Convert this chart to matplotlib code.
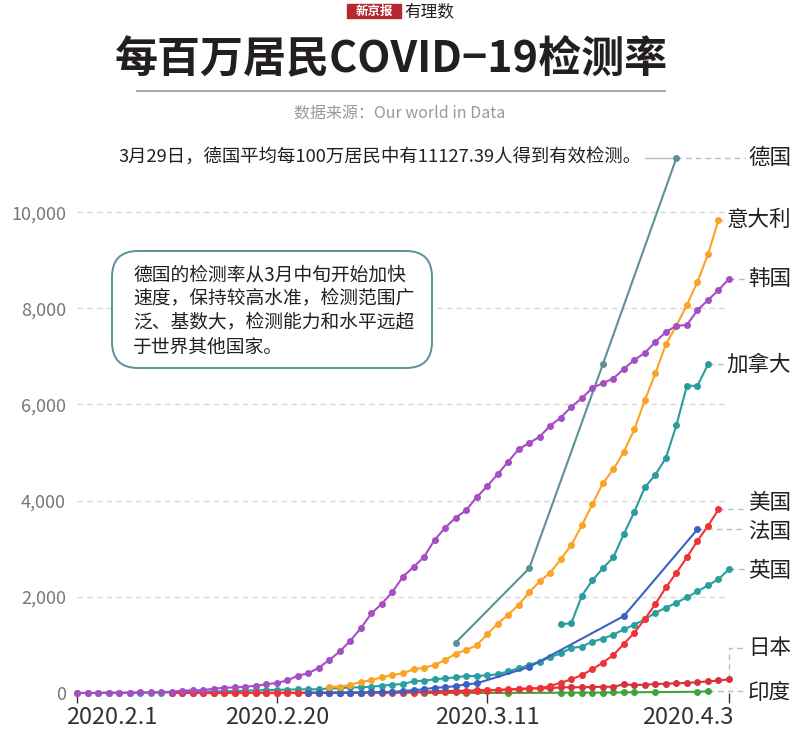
import matplotlib
matplotlib.use('Agg')
import matplotlib.pyplot as plt
import matplotlib.dates as mdates
import matplotlib.transforms as mtransforms
from matplotlib.patches import FancyBboxPatch, Rectangle
from matplotlib.lines import Line2D
from matplotlib.ticker import FuncFormatter
import pandas as pd

plt.rcParams['font.family'] = ['Noto Sans CJK SC', 'DejaVu Sans']

# 每日序列: 起始日期 + 每百万居民检测数
korea_start = '2020-02-01'
korea = [0, 2, 5, 10, 10, 10, 15, 15, 20, 25, 50, 55, 60, 90, 110, 115, 130, 150,
         180, 210, 260, 360, 410, 525, 690, 865, 1090, 1350, 1655, 1860, 2105,
         2420, 2620, 2830, 3180, 3435, 3645, 3800, 4070, 4300, 4550, 4810, 5070,
         5200, 5330, 5560, 5725, 5950, 6130, 6340, 6445, 6540, 6740, 6925, 7075,
         7300, 7510, 7635, 7655, 7960, 8170, 8380, 8610]

italy_start = '2020-02-25'
italy = [131, 131, 173, 229, 270, 326, 374, 409, 492, 526, 582, 686, 817, 894,
         991, 1220, 1441, 1628, 1836, 2093, 2322, 2501, 2780, 3077, 3486, 3923,
         4360, 4651, 5017, 5482, 6091, 6646, 7256, 7636, 8073, 8551, 9120, 9834]

germany_dates = ['2020-03-08', '2020-03-15', '2020-03-22', '2020-03-29']
germany = [1046, 2592, 6834, 11127.39]

canada_start = '2020-03-18'
canada = [1430, 1449, 2020, 2340, 2592, 2821, 3306, 3770, 4276, 4540, 4890,
          5572, 6389, 6389, 6834]

uk_start = '2020-02-01'
uk = [0, 0, 0, 0, 0, 2, 3, 5, 8, 10, 15, 20, 25, 30, 35, 40, 50, 55, 60, 65, 70, 75,
      77, 77, 97, 97, 118, 118, 131, 152, 173, 187, 243, 256, 284, 305, 326, 353,
      353, 367, 388, 451, 513, 582, 651, 742, 825, 936, 963, 1067, 1129, 1212,
      1323, 1420, 1532, 1669, 1773, 1877, 1988, 2113, 2238, 2370, 2571]

france_daily_start = '2020-02-23'
france_daily = [2, 3, 3, 4, 5, 8, 12, 18, 25, 40, 60, 77, 110, 118, 145, 180, 200]
france_late_dates = ['2020-03-15', '2020-03-24', '2020-03-31']
france_late = [540, 1600, 3403]

us_start = '2020-02-10'
us = [0, 0, 0, 0, 0, 0, 1, 1, 1, 1, 2, 2, 2, 3, 3, 3, 4, 4, 5, 5, 6, 7,
      8, 10, 12, 15, 18, 25, 30, 40, 50, 60, 75, 85,
      97, 100, 145, 214, 284, 374, 492, 630, 790, 1019, 1254, 1538, 1850, 2196,
      2501, 2821, 3167, 3472, 3819]

japan_start = '2020-02-10'
japan = [2, 2, 3, 3, 3, 4, 4, 4, 5, 5, 5, 6, 6, 7, 7, 8, 9, 10, 10, 11, 12, 13,
         14, 20, 28, 35, 42, 45, 50, 55, 62, 62, 70, 77, 90, 97, 100, 118, 118,
         120, 125, 128, 130, 180, 165, 175, 185, 195, 200, 210, 225, 240, 260, 284]

india_dates = ['2020-03-05', '2020-03-09', '2020-03-13', '2020-03-18', '2020-03-19',
               '2020-03-20', '2020-03-21', '2020-03-22', '2020-03-23', '2020-03-24',
               '2020-03-25', '2020-03-27', '2020-03-31', '2020-04-01']
india = [0.5, 1, 2, 5, 6, 7, 8, 10, 11, 13, 16, 19, 25, 35]

tick_dates = ['2020-02-01', '2020-02-20', '2020-03-11', '2020-04-03']
tick_labels = ['2020.2.1', '2020.2.20', '2020.3.11', '2020.4.3']

W, H = 800, 748
fig = plt.figure(figsize=(W / 100, H / 100), dpi=100)


def fx(px):
    return px / W


def fy(py):
    return 1 - py / H


ax = fig.add_axes([fx(77), fy(693), fx(729) - fx(77), fy(140) - fy(693)])

d = lambda s: mdates.date2num(pd.Timestamp(s))
daily = lambda start, vals: pd.date_range(start, periods=len(vals))

series = [
    ('英国', daily(uk_start, uk), uk, '#2b9fa0'),
    ('印度', pd.to_datetime(india_dates), india, '#3da33d'),
    ('日本', daily(japan_start, japan), japan, '#d9323c'),
    ('美国', daily(us_start, us), us, '#ee3338'),
    ('法国', list(daily(france_daily_start, france_daily)) + list(pd.to_datetime(france_late_dates)),
     france_daily + france_late, '#3b62c2'),
    ('加拿大', daily(canada_start, canada), canada, '#2a9c9e'),
    ('意大利', daily(italy_start, italy), italy, '#f9a425'),
    ('德国', pd.to_datetime(germany_dates), germany, '#5e9098'),
    ('韩国', daily(korea_start, korea), korea, '#a64ec4'),
]

for i, (name, x, y, c) in enumerate(series):
    ax.plot(x, y, color=c, lw=1.5, marker='o', ms=4, clip_on=False, zorder=3 + i)

ax.set_xlim(d('2020-02-01'), d('2020-04-03'))
ax.set_ylim(0, 11500)
ax.set_yticks([0, 2000, 4000, 6000, 8000, 10000])
ax.yaxis.set_major_formatter(FuncFormatter(lambda v, p: f'{int(v):,}'))
ax.yaxis.grid(True, color='#d8d8d8', ls=(0, (4, 3)), lw=1)
ax.set_axisbelow(True)
for s in ax.spines.values():
    s.set_visible(False)
ax.tick_params(axis='y', length=0, pad=8, labelsize=13, labelcolor='#777777')

ax.set_xticks([d(t) for t in tick_dates])
ax.set_xticklabels([])
ax.tick_params(axis='x', length=7, width=1, color='#333333', direction='out', pad=2)
bt = mtransforms.blended_transform_factory(ax.transData, ax.transAxes)
for i, (t, lab) in enumerate(zip(tick_dates, tick_labels)):
    xx, ha = d(t), 'center'
    if i == 0:
        xx, ha = d(t) - 1.0, 'left'
    elif i == len(tick_dates) - 1:
        xx, ha = d(t) + 0.4, 'right'
    ax.text(xx, -0.044, lab, transform=bt, ha=ha, va='center', fontsize=17,
            color='#333333', clip_on=False)

# 右侧国家标签(右对齐)与引线
lab_right = ax.transData.inverted().transform((791, 0))[0]
lead = dict(color='#bbbbbb', lw=1, ls=(0, (4, 3)), clip_on=False, zorder=1)
label_y = {'德国': 11127, '意大利': 9834, '韩国': 8610, '加拿大': 6834, '美国': 3950,
           '法国': 3350, '英国': 2540, '日本': 935, '印度': 0}
fig.canvas.draw()
renderer = fig.canvas.get_renderer()
for name, x, y, c in series:
    xe = mdates.date2num(pd.Timestamp(x[-1]))
    ye = y[-1]
    ly = label_y[name]
    t = ax.text(lab_right, ly, name, ha='right', va='center', fontsize=15.5,
                color='#231f20', clip_on=False)
    left_px = t.get_window_extent(renderer).x0 - 3
    lx = ax.transData.inverted().transform((left_px, 0))[0]
    if name == '日本':
        ax.plot([xe, xe, lx], [ye, ly, ly], **lead)
    else:
        ax.plot([xe, lx], [ye, ye], **lead)

# 德国注释
gx, gv = d(germany_dates[-1]), germany[-1]
ax.plot([gx - 3.0, gx], [gv, gv], color='#bbbbbb', lw=1, clip_on=False, zorder=1)
ax.text(gx - 3.3, gv, '3月29日，德国平均每100万居民中有11127.39人得到有效检测。',
        ha='right', va='center', fontsize=13.2, color='#231f20', clip_on=False)

# 圆角说明框
box = FancyBboxPatch((112, H - 368), 320, 117, boxstyle='round,pad=0,rounding_size=26',
                     transform=mtransforms.IdentityTransform(), facecolor='white',
                     edgecolor='#5e9098', lw=1.4, zorder=20)
fig.add_artist(box)
fig.text(fx(133), fy(311),
         '德国的检测率从3月中旬开始加快\n速度，保持较高水准，检测范围广\n'
         '泛、基数大，检测能力和水平远超\n于世界其他国家。',
         ha='left', va='center', fontsize=13.5, color='#231f20', linespacing=1.2,
         zorder=21)

# 标题区
fig.add_artist(Rectangle((fx(347), fy(18)), fx(401) - fx(347), fy(4) - fy(18),
                         transform=fig.transFigure, color='#b8282f'))
fig.text(fx(374), fy(11), '新京报', ha='center', va='center', fontsize=9,
         color='white', weight='bold')
fig.text(fx(404), fy(12), '有理数', ha='left', va='center', fontsize=12,
         color='#231f20', style='italic')
fig.text(fx(391), fy(59), '每百万居民COVID−19检测率', ha='center', va='center',
         fontsize=31, weight='bold', color='#231f20')
fig.add_artist(Line2D([fx(137), fx(665)], [fy(91), fy(91)], transform=fig.transFigure,
                      color='#aaaaaa', lw=1.5))
fig.text(fx(400), fy(114), '数据来源：Our world in Data', ha='center', va='center',
         fontsize=11.5, color='#999999')

fig.savefig('out.png', dpi=100)
